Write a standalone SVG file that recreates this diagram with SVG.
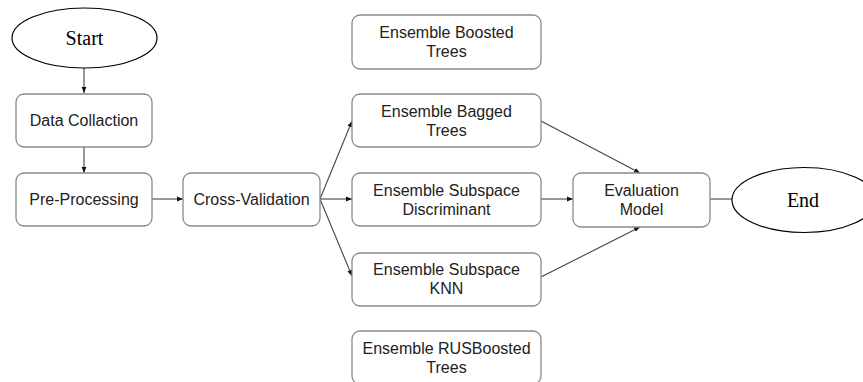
<svg xmlns="http://www.w3.org/2000/svg" width="863" height="382" viewBox="0 0 863 382">
<style>
.box{fill:#fff;stroke:#8a8a8a;stroke-width:1.3}
.ell{fill:#fff;stroke:#000;stroke-width:1.2}
.t{font-family:"Liberation Sans",Arial,sans-serif;font-size:16px;fill:#222;text-anchor:middle}
.s{font-family:"Liberation Serif","Times New Roman",serif;font-size:20px;fill:#000;text-anchor:middle}
.c{fill:none;stroke:#444;stroke-width:1.1}
</style>
<defs>
<marker id="ah" viewBox="0 0 10 10" refX="10" refY="5" markerWidth="6" markerHeight="6" orient="auto" markerUnits="userSpaceOnUse">
<path d="M0,1 L10,5 L0,9 Z" fill="#111"/>
</marker>
</defs>
<rect width="863" height="382" fill="#fff"/>
<g id="connectors">
<line class="c" x1="84" y1="68" x2="84" y2="93" marker-end="url(#ah)"/>
<line class="c" x1="84" y1="147" x2="84" y2="173" marker-end="url(#ah)"/>
<line class="c" x1="152" y1="199" x2="183" y2="199" marker-end="url(#ah)"/>
<line class="c" x1="320" y1="199" x2="352" y2="121" marker-end="url(#ah)"/>
<line class="c" x1="320" y1="199" x2="352" y2="199" marker-end="url(#ah)"/>
<line class="c" x1="320" y1="199" x2="352" y2="276" marker-end="url(#ah)"/>
<line class="c" x1="541" y1="121" x2="640" y2="173" marker-end="url(#ah)"/>
<line class="c" x1="541" y1="199" x2="573" y2="199" marker-end="url(#ah)"/>
<line class="c" x1="541" y1="277" x2="640" y2="227" marker-end="url(#ah)"/>
<line class="c" x1="710" y1="199" x2="732" y2="199"/>
</g>
<g id="start">
<ellipse class="ell" cx="84.5" cy="38" rx="72.5" ry="30"/>
<text class="s" x="84.5" y="44.5">Start</text>
</g>
<g id="data-collaction">
<rect class="box" x="16" y="94" width="136" height="53" rx="8"/>
<text class="t" x="84" y="126">Data Collaction</text>
</g>
<g id="pre-processing">
<rect class="box" x="16" y="173" width="136" height="53" rx="8"/>
<text class="t" x="84" y="205">Pre-Processing</text>
</g>
<g id="cross-validation">
<rect class="box" x="183" y="173" width="137" height="53" rx="8"/>
<text class="t" x="251.5" y="205">Cross-Validation</text>
</g>
<g id="boosted">
<rect class="box" x="352" y="15" width="189" height="54" rx="8"/>
<text class="t" x="446.5" y="38">Ensemble Boosted</text>
<text class="t" x="446.5" y="57">Trees</text>
</g>
<g id="bagged">
<rect class="box" x="352" y="94" width="189" height="53" rx="8"/>
<text class="t" x="446.5" y="117">Ensemble Bagged</text>
<text class="t" x="446.5" y="136">Trees</text>
</g>
<g id="discriminant">
<rect class="box" x="352" y="173" width="189" height="53" rx="8"/>
<text class="t" x="446.5" y="196">Ensemble Subspace</text>
<text class="t" x="446.5" y="215">Discriminant</text>
</g>
<g id="knn">
<rect class="box" x="352" y="253" width="189" height="53" rx="8"/>
<text class="t" x="446.5" y="275">Ensemble Subspace</text>
<text class="t" x="446.5" y="294">KNN</text>
</g>
<g id="rusboosted">
<rect class="box" x="352" y="331" width="189" height="53" rx="8"/>
<text class="t" x="446.5" y="354">Ensemble RUSBoosted</text>
<text class="t" x="446.5" y="373">Trees</text>
</g>
<g id="evaluation">
<rect class="box" x="573" y="173" width="137" height="54" rx="8"/>
<text class="t" x="641.5" y="196">Evaluation</text>
<text class="t" x="641.5" y="215">Model</text>
</g>
<g id="end">
<ellipse class="ell" cx="804" cy="200" rx="72" ry="32.5"/>
<text class="s" x="803" y="206.5">End</text>
</g>
</svg>
